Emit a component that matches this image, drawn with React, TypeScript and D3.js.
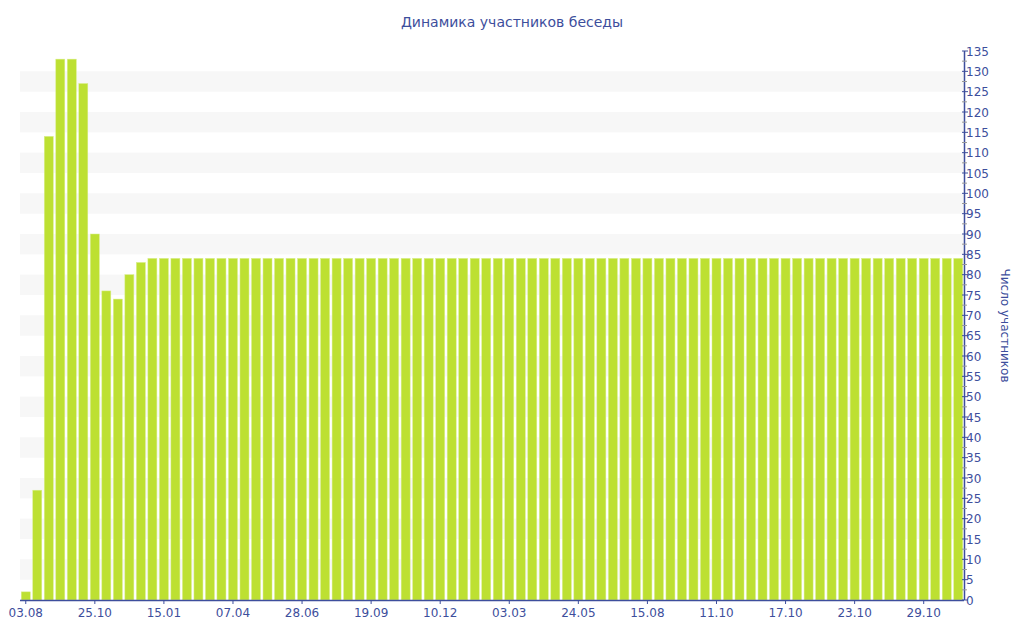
import React from "react";
import * as d3 from "d3";

const TITLE = "Динамика участников беседы";
const Y_TITLE = "Число участников";

// values for each bar (82 bars)
const headValues = [2, 27, 114, 133, 133, 127, 90, 76, 74, 80, 83];
const tailCount = 71;
const tailValue = 84;
const values: number[] = [...headValues, ...Array.from({ length: tailCount }, () => tailValue)];

// tick labels, one every 6 bars
const tickLabels = [
  "03.08", "25.10", "15.01", "07.04", "28.06", "19.09", "10.12",
  "03.03", "24.05", "15.08", "11.10", "17.10", "23.10", "29.10",
];
const tickEvery = 6;

const W = 1024;
const H = 640;
const left = 20;
const right = 964;
const top = 51;
const bottom = 600;
const TEXT = "#3d4e9c";
const BAR = "#bde032";
const FONT = "DejaVu Sans, Verdana, sans-serif";

export default function App() {
  const idx = values.map((_, i) => i);
  const x = d3.scaleBand<number>().domain(idx).range([left, right]).paddingInner(0.22).paddingOuter(0.11);
  const y = d3.scaleLinear().domain([0, 135]).range([bottom, top]);

  const stripes = d3.range(5, 135, 10);
  const majors = d3.range(0, 136, 5);
  const minors = d3.range(2.5, 135, 5);

  return (
    <svg width={W} height={H} style={{ position: "absolute", left: 0, top: 0 }} fontFamily={FONT}>
      <rect x={0} y={0} width={W} height={H} fill="#fff" />
      {stripes.map((s) => (
        <rect key={s} x={left} y={y(s + 5)} width={right - left} height={y(s) - y(s + 5)} fill="#f7f7f7" />
      ))}
      {values.map((v, i) => (
        <rect key={i} x={x(i)} y={y(v)} width={x.bandwidth()} height={bottom - y(v)} fill={BAR} stroke="#d8ee8a" strokeWidth={0.5} />
      ))}
      {/* x axis */}
      <line x1={left} x2={right} y1={bottom + 0.5} y2={bottom + 0.5} stroke={TEXT} strokeWidth={1.5} />
      {tickLabels.map((t, k) => {
        const cx = (x(k * tickEvery) as number) + x.bandwidth() / 2;
        return (
          <g key={t + k}>
            <line x1={cx} x2={cx} y1={bottom} y2={bottom + 4} stroke={TEXT} />
            <text x={cx} y={bottom + 17} textAnchor="middle" fontSize={12} fill={TEXT}>{t}</text>
          </g>
        );
      })}
      {/* y axis */}
      <line x1={right + 0.5} x2={right + 0.5} y1={top} y2={bottom} stroke={TEXT} strokeWidth={1.5} />
      {minors.map((m) => (
        <line key={m} x1={right - 2} x2={right + 3} y1={y(m)} y2={y(m)} stroke="#999" />
      ))}
      {majors.map((m) => (
        <g key={m}>
          <line x1={right - 2} x2={right + 4} y1={y(m)} y2={y(m)} stroke={TEXT} />
          <text x={right + 2} y={y(m) + 4.5} fontSize={12} fill={TEXT}>{m}</text>
        </g>
      ))}
      <text transform={`translate(1001, ${(top + bottom) / 2}) rotate(90)`} textAnchor="middle" fontSize={12} fill={TEXT}>{Y_TITLE}</text>
      <text x={512} y={27} textAnchor="middle" fontSize={14} fill={TEXT}>{TITLE}</text>
    </svg>
  );
}
